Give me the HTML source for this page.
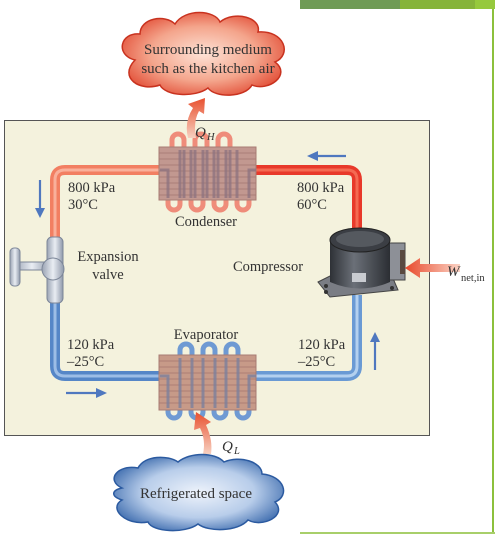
<!DOCTYPE html>
<html><head><meta charset="utf-8"><style>
html,body{margin:0;padding:0;background:#fff;width:495px;height:536px;overflow:hidden}
svg{display:block}
text{font-family:"Liberation Serif",serif;fill:#333}
</style></head><body>
<svg width="495" height="536" viewBox="0 0 495 536" xmlns="http://www.w3.org/2000/svg">
<defs>
<radialGradient id="rc" cx="50%" cy="50%" r="60%"><stop offset="0" stop-color="#fde2d6"/><stop offset="0.55" stop-color="#f4a58c"/><stop offset="1" stop-color="#e0432c"/></radialGradient>
<radialGradient id="bc" cx="50%" cy="50%" r="60%"><stop offset="0" stop-color="#eef3fb"/><stop offset="0.55" stop-color="#b8cdea"/><stop offset="1" stop-color="#2d5fa6"/></radialGradient>
<linearGradient id="upA" x1="0" y1="1" x2="0" y2="0"><stop offset="0" stop-color="#f7d0c0"/><stop offset="1" stop-color="#e8502f"/></linearGradient>
<linearGradient id="wA" x1="1" y1="0" x2="0" y2="0"><stop offset="0" stop-color="#fbd3c5"/><stop offset="1" stop-color="#e84a2c"/></linearGradient>
<linearGradient id="comp" x1="0" y1="0" x2="1" y2="0"><stop offset="0" stop-color="#2e3136"/><stop offset="0.4" stop-color="#6b7078"/><stop offset="1" stop-color="#2b2e33"/></linearGradient>
<linearGradient id="valve" x1="0" y1="0" x2="1" y2="0"><stop offset="0" stop-color="#9aa3b3"/><stop offset="0.5" stop-color="#e9edf3"/><stop offset="1" stop-color="#8e98aa"/></linearGradient>
</defs>
<rect x="300" y="0" width="100" height="9" fill="#6f9b55"/>
<rect x="400" y="0" width="75" height="9" fill="#86b43a"/>
<rect x="475" y="0" width="20" height="9" fill="#96c93d"/>
<line x1="493" y1="9" x2="493" y2="532" stroke="#8cc03c" stroke-width="2"/>
<line x1="300" y1="533" x2="495" y2="533" stroke="#a8cf6a" stroke-width="2"/>
<rect x="4.5" y="120.5" width="425" height="315" fill="#f4f2dd" stroke="#555" stroke-width="1"/>
<path d="M160 170 H65 Q55 170 55 180 V245" fill="none" stroke="#f27f62" stroke-width="10"/>
<path d="M160 170 H65 Q55 170 55 180 V245" fill="none" stroke="#f9b09b" stroke-width="3"/>
<path d="M256 170 H347 Q357 170 357 180 V235" fill="none" stroke="#e8392a" stroke-width="10"/>
<path d="M256 170 H347 Q357 170 357 180 V235" fill="none" stroke="#f46a52" stroke-width="3"/>
<path d="M55 298 V366 Q55 376 65 376 H160" fill="none" stroke="#5586c7" stroke-width="10"/>
<path d="M55 298 V366 Q55 376 65 376 H160" fill="none" stroke="#9cbde6" stroke-width="3"/>
<path d="M256 376 H347 Q357 376 357 366 V295" fill="none" stroke="#6a9ad4" stroke-width="10"/>
<path d="M256 376 H347 Q357 376 357 366 V295" fill="none" stroke="#b3d0ef" stroke-width="3"/>
<g>
<path d="M172 150 V140 a6 6 0 0 1 12 0 V150 M195 150 V140 a6 6 0 0 1 12 0 V150 M218 150 V140 a6 6 0 0 1 12 0 V150" fill="none" stroke="#ef8c7a" stroke-width="5"/>
<path d="M168 198 V204 a6 6 0 0 0 12 0 V198 M191 198 V204 a6 6 0 0 0 12 0 V198 M214 198 V204 a6 6 0 0 0 12 0 V198 M237 198 V204 a6 6 0 0 0 12 0 V198" fill="none" stroke="#ef8c7a" stroke-width="5"/>
<rect x="159" y="147" width="97" height="53" fill="#c29890" stroke="#a77c74"/>
<g stroke="#a3766f" stroke-width="0.8">
<line x1="159" y1="153" x2="256" y2="153"/><line x1="159" y1="159" x2="256" y2="159"/><line x1="159" y1="165" x2="256" y2="165"/><line x1="159" y1="171" x2="256" y2="171"/><line x1="159" y1="177" x2="256" y2="177"/><line x1="159" y1="183" x2="256" y2="183"/><line x1="159" y1="189" x2="256" y2="189"/><line x1="159" y1="195" x2="256" y2="195"/>
</g>
<path d="M160 170 H168 V198 M180 198 V150 M184 150 V198 M191 198 V150 M195 150 V198 M203 198 V150 M207 150 V198 M214 198 V150 M218 150 V198 M226 198 V150 M230 150 V198 M237 198 V150 M249 198 V170 H256" fill="none" stroke="#8f7480" stroke-width="3" opacity="0.8"/>
</g>
<g>
<path d="M180 358 V350 a6 6 0 0 1 12 0 V358 M203 358 V350 a6 6 0 0 1 12 0 V358 M226 358 V350 a6 6 0 0 1 12 0 V358" fill="none" stroke="#6f9ad3" stroke-width="5"/>
<path d="M168 408 V412 a6 6 0 0 0 12 0 V408 M191 408 V412 a6 6 0 0 0 12 0 V408 M214 408 V412 a6 6 0 0 0 12 0 V408 M237 408 V412 a6 6 0 0 0 12 0 V408" fill="none" stroke="#6f9ad3" stroke-width="5"/>
<rect x="159" y="355" width="97" height="55" fill="#c79a88" stroke="#a77c74"/>
<g stroke="#a3766f" stroke-width="0.8">
<line x1="159" y1="361" x2="256" y2="361"/><line x1="159" y1="367" x2="256" y2="367"/><line x1="159" y1="373" x2="256" y2="373"/><line x1="159" y1="379" x2="256" y2="379"/><line x1="159" y1="385" x2="256" y2="385"/><line x1="159" y1="391" x2="256" y2="391"/><line x1="159" y1="397" x2="256" y2="397"/><line x1="159" y1="403" x2="256" y2="403"/>
</g>
<path d="M160 376 H168 V408 M180 408 V358 M192 358 V408 M203 408 V358 M215 358 V408 M226 408 V358 M238 358 V408 M249 408 V376 H256" fill="none" stroke="#7c7f9c" stroke-width="3" opacity="0.8"/>
</g>
<g stroke="#4f78bf" stroke-width="2.2" fill="#4f78bf">
<line x1="40" y1="180" x2="40" y2="210"/><path d="M35 208 L40 218 L45 208Z" stroke="none"/>
<line x1="346" y1="156" x2="316" y2="156"/><path d="M318 151 L307 156 L318 161Z" stroke="none"/>
<line x1="66" y1="393" x2="98" y2="393"/><path d="M96 388 L107 393 L96 398Z" stroke="none"/>
<line x1="375" y1="370" x2="375" y2="340"/><path d="M370 342 L375 332 L380 342Z" stroke="none"/>
</g>
<g>
<rect x="47" y="237" width="16" height="66" rx="5" fill="url(#valve)" stroke="#7c8698"/>
<rect x="14" y="262" width="36" height="8" rx="3" fill="url(#valve)" stroke="#7c8698"/>
<rect x="10" y="248" width="10" height="38" rx="4" fill="url(#valve)" stroke="#7c8698"/>
<circle cx="53" cy="269" r="11" fill="url(#valve)" stroke="#7c8698"/>
</g>
<g>
<path d="M318 282 L330 276 L392 276 L398 290 L330 297 Z" fill="#7a7d84" stroke="#444"/>
<circle cx="326" cy="286" r="2" fill="#333"/><circle cx="326" cy="292" r="2" fill="#333"/><circle cx="392" cy="288" r="2" fill="#333"/>
<rect x="385" y="243" width="20" height="37" fill="#8d9097" stroke="#444"/>
<rect x="400" y="250" width="5" height="24" fill="#5a4a40"/>
<path d="M330 240 V282 Q360 295 390 282 V240 Z" fill="url(#comp)"/>
<ellipse cx="360" cy="240" rx="30" ry="12" fill="#3b3e44" stroke="#222"/>
<ellipse cx="360" cy="239" rx="24" ry="8" fill="#55595f"/>
<rect x="352" y="273" width="14" height="9" fill="#c9ccd1"/>
</g>
<path d="M460 264 H420 V258 L405 268 L420 278 V272 H460 Z" fill="url(#wA)"/>
<text x="447" y="276" font-size="15" font-style="italic">W</text>
<text x="461" y="281" font-size="10.5">net,in</text>
<path d="M188 138 Q184 122 193 108 L188 104 L205 98 L204 114 L199 111 Q193 122 196 138 Z" fill="url(#upA)"/>
<text x="195" y="137" font-size="15" font-style="italic">Q</text><text x="207" y="140" font-size="10.5" font-style="italic">H</text>
<path d="M203 454 Q206 440 200 428 L194 430 L196 412 L211 422 L206 425 Q213 440 211 454 Z" fill="url(#upA)"/>
<text x="222" y="451" font-size="15" font-style="italic">Q</text><text x="234" y="454" font-size="10.5" font-style="italic">L</text>
<path d="M135 60 C115 55 120 32 140 34 C140 18 165 14 175 24 C185 8 215 10 220 22 C235 10 262 18 258 32 C285 30 292 55 275 62 C292 75 268 92 252 85 C245 98 215 98 208 88 C195 98 165 96 160 85 C140 92 118 78 135 60 Z" fill="url(#rc)" stroke="#c8321f" stroke-width="1.5"/>
<text x="208" y="54" font-size="15" text-anchor="middle">Surrounding medium</text>
<text x="208" y="73" font-size="15" text-anchor="middle">such as the kitchen air</text>
<path d="M122 488 C105 480 118 464 138 468 C145 455 168 455 178 462 C190 452 215 452 224 462 C240 455 262 462 262 474 C285 476 290 496 275 502 C288 516 262 528 248 520 C238 532 208 532 198 524 C185 534 152 532 148 522 C125 526 108 508 122 500 C110 496 112 490 122 488 Z" fill="url(#bc)" stroke="#2b5aa0" stroke-width="1.5"/>
<text x="196" y="498" font-size="15" text-anchor="middle">Refrigerated space</text>
<g font-size="14.5">
<text x="68" y="192">800 kPa</text><text x="68" y="209">30°C</text>
<text x="297" y="192">800 kPa</text><text x="297" y="209">60°C</text>
<text x="206" y="226" text-anchor="middle">Condenser</text>
<text x="108" y="261" text-anchor="middle">Expansion</text><text x="108" y="279" text-anchor="middle">valve</text>
<text x="268" y="271" text-anchor="middle">Compressor</text>
<text x="206" y="339" text-anchor="middle">Evaporator</text>
<text x="67" y="349">120 kPa</text><text x="67" y="366">–25°C</text>
<text x="298" y="349">120 kPa</text><text x="298" y="366">–25°C</text>
</g>
</svg>
</body></html>
